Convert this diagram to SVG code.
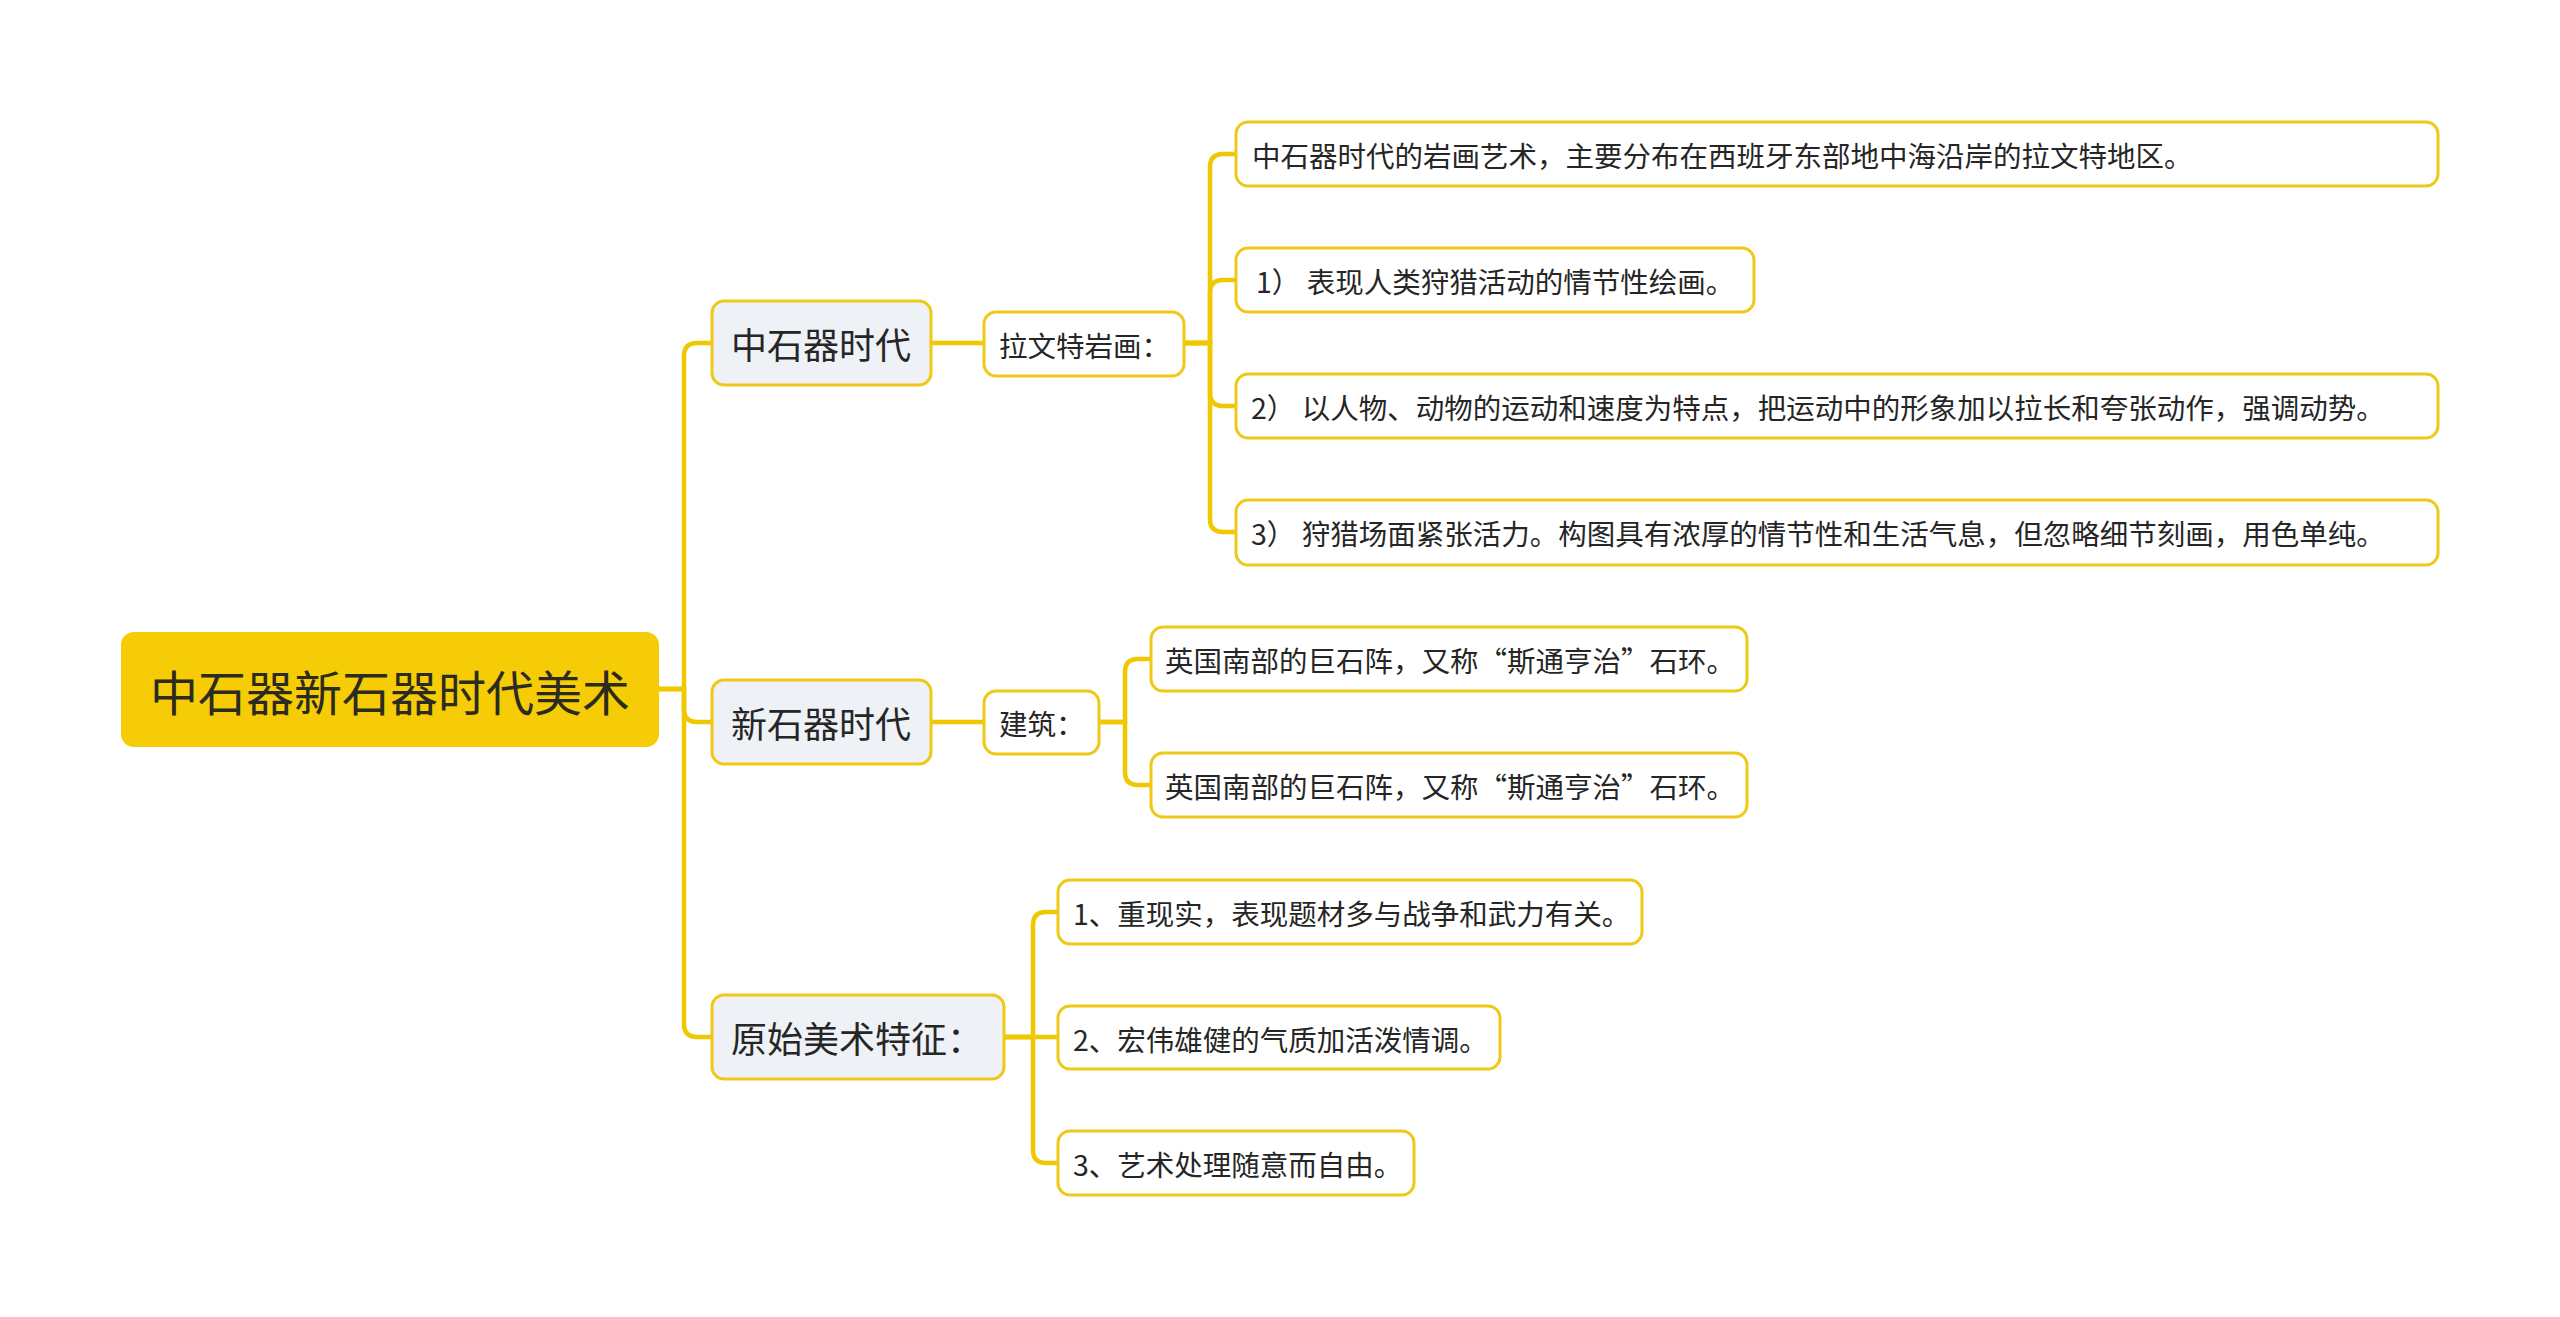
<svg xmlns="http://www.w3.org/2000/svg" width="2560" height="1317" viewBox="0 0 2560 1317">
<style>
text{font-family:"Microsoft YaHei","Noto Sans CJK SC","Noto Sans",sans-serif;fill:#262626;dominant-baseline:central}
.root rect{fill:#F5CC05;stroke:#F5CC05;stroke-width:2}
.root text{font-size:48px;fill:#2b2b1f}
.l1 rect{fill:#EEF1F5;stroke:#EFC818;stroke-width:3}
.l1 text{font-size:36px}
.l2 rect,.leaf rect{fill:#FFFFFF;stroke:#EFC818;stroke-width:3}
.l2 text,.leaf text{font-size:28.5px}
#connectors path{fill:none;stroke:#F0C800;stroke-width:4.5;stroke-linecap:round}
</style>
<rect width="2560" height="1317" fill="#FFFFFF"/>
<g id="connectors">
<path d="M658 689 H684 V356 Q684 343 697 343 H712"/>
<path d="M658 689 H684 V709 Q684 722 697 722 H712"/>
<path d="M658 689 H684 V1024 Q684 1037 697 1037 H712"/>
<path d="M931 343 H984"/>
<path d="M931 722 H984"/>
<path d="M1184 343 H1210 V167 Q1210 154 1223 154 H1236"/>
<path d="M1184 343 H1210 V293 Q1210 280 1223 280 H1236"/>
<path d="M1184 343 H1210 V393 Q1210 406 1223 406 H1236"/>
<path d="M1184 343 H1210 V519 Q1210 532 1223 532 H1236"/>
<path d="M1099 722 H1125 V672 Q1125 659 1138 659 H1151"/>
<path d="M1099 722 H1125 V772 Q1125 785 1138 785 H1151"/>
<path d="M1004 1037 H1033 V925 Q1033 912 1046 912 H1058"/>
<path d="M1004 1037 H1058"/>
<path d="M1004 1037 H1033 V1150 Q1033 1163 1046 1163 H1058"/>
</g>
<g id="root" class="root"><rect x="122" y="633" width="536" height="113" rx="12"/><text x="150" y="690">中石器新石器时代美术</text></g>
<g id="n-mesolithic" class="l1"><rect x="712" y="301" width="219" height="84" rx="12"/><text x="731" y="343">中石器时代</text></g>
<g id="n-neolithic" class="l1"><rect x="712" y="680" width="219" height="84" rx="12"/><text x="731" y="722">新石器时代</text></g>
<g id="n-features" class="l1"><rect x="712" y="995" width="292" height="84" rx="12"/><text x="731" y="1037">原始美术特征：</text></g>
<g id="n-levante" class="l2"><rect x="984" y="312" width="200" height="64" rx="12"/><text x="999" y="344">拉文特岩画：</text></g>
<g id="n-building" class="l2"><rect x="984" y="691" width="115" height="63" rx="12"/><text x="999" y="722">建筑：</text></g>
<g id="leaf-1" class="leaf"><rect x="1236" y="122" width="1202" height="64" rx="12"/><text x="1252" y="154">中石器时代的岩画艺术，主要分布在西班牙东部地中海沿岸的拉文特地区。</text></g>
<g id="leaf-2" class="leaf"><rect x="1236" y="248" width="518" height="64" rx="12"/><text x="1256" y="280">1） 表现人类狩猎活动的情节性绘画。</text></g>
<g id="leaf-3" class="leaf"><rect x="1236" y="374" width="1202" height="64" rx="12"/><text x="1251" y="406">2） 以人物、动物的运动和速度为特点，把运动中的形象加以拉长和夸张动作，强调动势。</text></g>
<g id="leaf-4" class="leaf"><rect x="1236" y="500" width="1202" height="65" rx="12"/><text x="1251" y="532">3） 狩猎场面紧张活力。构图具有浓厚的情节性和生活气息，但忽略细节刻画，用色单纯。</text></g>
<g id="leaf-5" class="leaf"><rect x="1151" y="627" width="596" height="64" rx="12"/><text x="1165" y="659">英国南部的巨石阵，又称“斯通亨治”石环。</text></g>
<g id="leaf-6" class="leaf"><rect x="1151" y="753" width="596" height="64" rx="12"/><text x="1165" y="785">英国南部的巨石阵，又称“斯通亨治”石环。</text></g>
<g id="leaf-7" class="leaf"><rect x="1058" y="880" width="584" height="64" rx="12"/><text x="1073" y="912">1、重现实，表现题材多与战争和武力有关。</text></g>
<g id="leaf-8" class="leaf"><rect x="1058" y="1006" width="442" height="63" rx="12"/><text x="1073" y="1038">2、宏伟雄健的气质加活泼情调。</text></g>
<g id="leaf-9" class="leaf"><rect x="1058" y="1131" width="356" height="64" rx="12"/><text x="1073" y="1163">3、艺术处理随意而自由。</text></g>
</svg>
